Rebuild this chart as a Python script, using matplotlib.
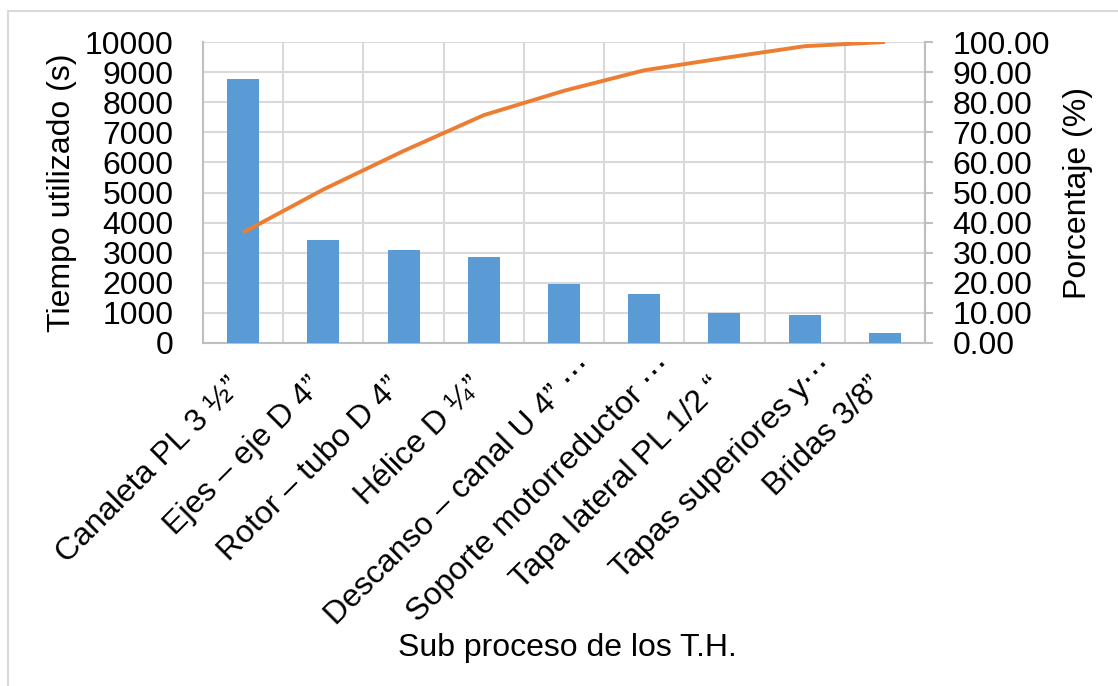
import matplotlib
matplotlib.use("Agg")
import matplotlib.pyplot as plt
from matplotlib.patches import Rectangle
from matplotlib.transforms import ScaledTranslation

plt.rcParams["font.family"] = ["Liberation Sans", "DejaVu Sans"]

# Pareto data: time spent per sub-process and cumulative percentage
categories = [
    "Canaleta PL 3 ½”",
    "Ejes – eje D 4”",
    "Rotor – tubo D 4”",
    "Hélice D ¼”",
    "Descanso – canal U 4” ⋯",
    "Soporte motorreductor ⋯",
    "Tapa lateral PL 1/2 “",
    "Tapas superiores y⋯",
    "Bridas 3/8”",
]
tiempo = [8780, 3420, 3080, 2850, 1950, 1620, 1000, 930, 330]
porcentaje = [36.7, 51.0, 63.8, 75.7, 83.8, 90.6, 94.7, 98.6, 100.0]
left_ticks = list(range(0, 10001, 1000))
right_ticks = [i * 10 for i in range(11)]

BAR = "#5B9BD5"
LINE = "#ED7D31"
GRID = "#D9D9D9"
SPINE = "#BFBFBF"
FS = 23

W, H = 1118, 686
fig = plt.figure(figsize=(W / 100, H / 100), dpi=100)
fig.patch.set_facecolor("white")

# chart area border
fig.add_artist(Rectangle((7.5 / W, -0.05), 1.2, 1 - 11 / H + 0.05,
                         transform=fig.transFigure, fill=False,
                         edgecolor="#D9D9D9", linewidth=1.5))

ax = fig.add_axes([203 / W, 1 - 343 / H, (925 - 203) / W, (343 - 42) / H])
x = list(range(len(categories)))
ax.bar(x, tiempo, width=0.4, color=BAR, zorder=3)
ax.set_xlim(-0.5, len(categories) - 0.5)
ax.set_ylim(0, 10000)
ax.set_yticks(left_ticks)
ax.set_yticklabels([str(v) for v in left_ticks], fontsize=FS)

# vertical gridlines at category boundaries
for b in range(1, len(categories)):
    ax.axvline(b - 0.5, color=GRID, linewidth=1.5, zorder=1)
ax.yaxis.grid(True, color=GRID, linewidth=1.5, zorder=1)
ax.set_axisbelow(True)

ax.set_xticks(x)
ax.set_xticklabels(categories, rotation=45, ha="right", va="center",
                   rotation_mode="anchor", fontsize=FS)
ax.tick_params(axis="x", length=0, pad=14)
ax.tick_params(axis="y", length=0, pad=21)
# nudge the slanted labels so each ends just under its bar;
# the shortened (ellipsis) labels sit a little further along
for lbl in ax.get_xticklabels():
    dx, dy = -6, -20
    if "⋯" in lbl.get_text():
        dx, dy = 24, 0
    lbl.set_transform(lbl.get_transform()
                      + ScaledTranslation(dx / 100, dy / 100, fig.dpi_scale_trans))

ax.spines["top"].set_visible(False)
for side in ("left", "bottom", "right"):
    ax.spines[side].set_color(SPINE)
    ax.spines[side].set_linewidth(1.5)

ax2 = ax.twinx()
ax2.plot(x, porcentaje, color=LINE, linewidth=2.8, zorder=4,
         solid_capstyle="butt")
ax2.set_ylim(0, 100)
ax2.set_yticks(right_ticks)
ax2.set_yticklabels([f"{v:.2f}" for v in right_ticks], fontsize=FS)
ax2.tick_params(axis="y", length=5.8, width=1.5, color=SPINE, direction="out", pad=14)
for side in ("top", "left", "bottom"):
    ax2.spines[side].set_visible(False)
ax2.spines["right"].set_color(SPINE)
ax2.spines["right"].set_linewidth(1.5)

# axis titles
fig.text(62 / W, 1 - 193 / H, "Tiempo utilizado (s)", rotation=90,
         ha="center", va="center", fontsize=FS)
fig.text(1078 / W, 1 - 193 / H, "Porcentaje (%)", rotation=90,
         ha="center", va="center", fontsize=FS)
fig.text(567 / W, 1 - 648 / H, "Sub proceso de los T.H.",
         ha="center", va="center", fontsize=FS)

fig.savefig("out.png", dpi=100, facecolor="white")
